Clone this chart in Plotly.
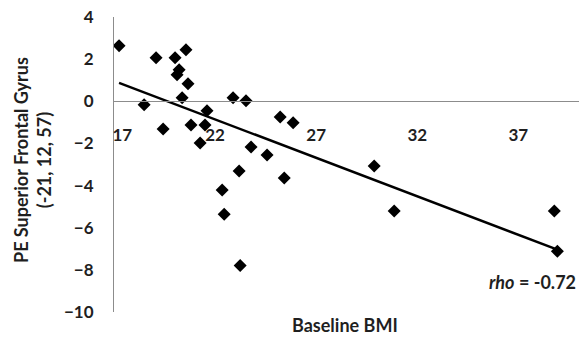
import plotly.graph_objects as go

# Data
bmi = [17.25, 19.08, 20.02, 20.56, 20.22, 20.12, 20.66, 20.37, 18.49, 22.89,
       23.53, 21.60, 19.43, 20.81, 21.50, 21.26, 23.78, 24.57, 25.22, 25.86,
       23.19, 25.42, 22.35, 22.45, 23.24, 29.87, 30.86, 38.78, 38.93]
pe = [2.64, 2.07, 2.07, 2.45, 1.50, 1.26, 0.83, 0.17, -0.17, 0.17,
      0.02, -0.45, -1.31, -1.12, -1.12, -1.98, -2.17, -2.55, -0.74, -1.02,
      -3.31, -3.64, -4.21, -5.36, -7.79, -3.07, -5.21, -5.21, -7.12]

# Trend line
trend_slope = -0.365
trend_intercept = 7.17
trend_x = [min(bmi), max(bmi)]
trend_y = [trend_intercept + trend_slope * v for v in trend_x]

x_ticks = [17, 22, 27, 32, 37]
x_ticktext = ["\u00a0\u00a0\u00a0\u00a017", "22", "27", "32", "37"]
y_ticks = [4, 2, 0, -2, -4, -6, -8, -10]

FONT = "Lato"
TXT = "#1f1f1f"
axis_color = "#8c8c8c"

W, H = 579, 339
l, r, t, b = 114, 0, 17, 27
pw, ph = W - l - r, H - t - b


def px2paper(px, py):
    return (px - l) / pw, (H - b - py) / ph


fig = go.Figure()
fig.add_trace(go.Scatter(x=trend_x, y=trend_y, mode="lines",
                         line=dict(color="black", width=2.5),
                         hoverinfo="skip", showlegend=False))
fig.add_trace(go.Scatter(x=bmi, y=pe, mode="markers",
                         marker=dict(symbol="diamond", size=10, color="black"),
                         showlegend=False))

ann = []
for text, (px, py), size, angle in [
    ("PE Superior Frontal Gyrus<br>(-21, 12, 57)", (32, 160), 18, -90),
    ("Baseline BMI", (345, 325), 18, 0),
    ("<i>rho</i> = -0.72", (532, 282), 18, 0),
]:
    ax, ay = px2paper(px, py)
    ann.append(dict(text=text, x=ax, y=ay, xref="paper", yref="paper",
                    xanchor="center", yanchor="middle", showarrow=False,
                    textangle=angle,
                    font=dict(family=FONT, size=size, color=TXT, weight="bold")))

fig.update_layout(
    width=W, height=H,
    margin=dict(l=l, r=r, t=t, b=b),
    plot_bgcolor="white", paper_bgcolor="white",
    font=dict(family=FONT, color=TXT),
    xaxis=dict(range=[17, 40], tickvals=x_ticks, ticktext=x_ticktext,
               showgrid=False, zeroline=False, showline=True,
               linecolor=axis_color, linewidth=1, ticks="",
               anchor="free", position=10/14,
               ticklabelstandoff=18,
               tickfont=dict(family=FONT, size=17, color=TXT, weight="bold")),
    yaxis=dict(range=[-10, 4], tickvals=y_ticks, showgrid=False,
               zeroline=False, showline=True, linecolor=axis_color, linewidth=1,
               ticks="", ticklabelstandoff=16,
               tickfont=dict(family=FONT, size=17, color=TXT, weight="bold")),
    annotations=ann,
)

fig.write_html("out.html")
